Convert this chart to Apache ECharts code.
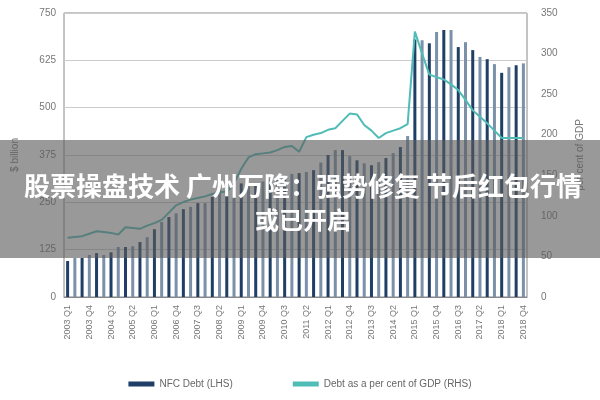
<!DOCTYPE html><html><head><meta charset="utf-8"><script src="https://cdn.jsdelivr.net/npm/echarts@6/dist/echarts.min.js"></script></head><body style="margin:0"><div id="c" style="width:600px;height:400px"></div><script>
const categories=[];for(let y=2003;y<=2018;y++)for(let q=1;q<=4;q++)categories.push(y+' Q'+q);
const nfcDebt=[95,103,103,111,116,111,118,132,132,134,145,158,179,198,211,221,232,238,248,248,264,285,295,302,300,298,300,305,310,315,320,325,327,330,335,355,375,388,388,372,361,353,348,356,367,380,396,425,680,678,670,700,705,705,660,673,652,634,628,615,592,607,612,617];
const debtGdp=[73,74,75,78,81,80,79,77,86,85,84,88,91,95,104,113,117,120,122,124,127,129,130,140,158,172,176,177,178,181,185,186,179,197,200,202,206,208,217,226,225,212,205,196,202,205,208,213,327,300,274,271,268,262,255,243,230,222,214,205,196,196,196,196];
const leftTicks=[0,750,125], rightTicks=[0,350,50];
const c=echarts.init(document.getElementById('c'));
const lab={color:'#777',fontSize:10,fontFamily:'Liberation Sans'};
c.setOption({animation:false,
grid:{left:64,right:73,top:13,bottom:103,show:true,borderColor:'#888',borderWidth:1},
legend:{bottom:6,left:'center',itemGap:60,textStyle:{color:'#666',fontSize:10},itemWidth:26,itemHeight:5,
data:[{name:'NFC Debt (LHS)',icon:'rect',itemStyle:{color:'#1f3f66'}},{name:'Debt as a per cent of GDP (RHS)',icon:'rect',itemStyle:{color:'#4fbcb5'}}]},
xAxis:{type:'category',data:categories,axisTick:{show:false},axisLine:{lineStyle:{color:'#888'}},
axisLabel:{...lab,fontSize:9,rotate:90,interval:2}},
yAxis:[{type:'value',min:leftTicks[0],max:leftTicks[1],interval:leftTicks[2],name:'$ billion',nameLocation:'middle',nameGap:44,nameTextStyle:{color:'#777',fontSize:10},axisLabel:lab,splitLine:{lineStyle:{color:'#ccc'}}},
{type:'value',min:rightTicks[0],max:rightTicks[1],interval:rightTicks[2],name:'per cent of GDP',nameLocation:'middle',nameGap:48,nameRotate:90,nameTextStyle:{color:'#777',fontSize:10},axisLabel:{...lab,margin:14},splitLine:{show:false}}],
series:[{name:'NFC Debt (LHS)',type:'bar',data:nfcDebt,barWidth:3,itemStyle:{color:p=>p.dataIndex%2?'#7b91aa':'#1f3f66'}},
{name:'Debt as a per cent of GDP (RHS)',type:'line',yAxisIndex:1,data:debtGdp,symbol:'none',lineStyle:{color:'#4fbcb5',width:2},itemStyle:{color:'#4fbcb5'}}],
graphic:[{type:'rect',shape:{x:0,y:140,width:600,height:118},style:{fill:'rgba(90,90,90,0.62)'},z:100},
{type:'text',x:303,y:186,style:{text:'股票操盘技术 广州万隆：强势修复 节后红包行情',fill:'#fff',font:'bold 26px "Noto Sans CJK SC"',align:'center',verticalAlign:'middle'},z:101},
{type:'text',x:303,y:220,style:{text:'或已开启',fill:'#fff',font:'bold 24px "Noto Sans CJK SC"',align:'center',verticalAlign:'middle'},z:101}]
});
</script></body></html>
